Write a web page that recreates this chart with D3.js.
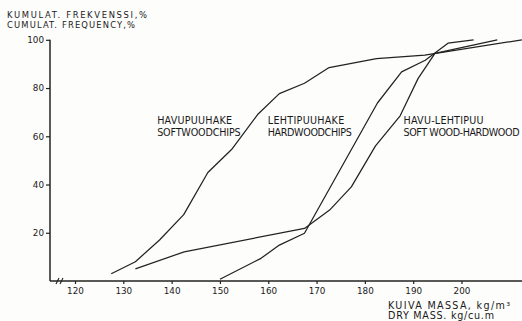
<!DOCTYPE html>
<html>
<head>
<meta charset="utf-8">
<script src="https://cdn.jsdelivr.net/npm/d3@7"></script>
<style>
  html, body { margin: 0; padding: 0; background: #fdfdfc; }
  svg { display: block; }
  text { font-family: "DejaVu Sans", sans-serif; fill: #1a1a1a; }
</style>
</head>
<body>
<svg id="chart" width="522" height="321"></svg>
<script>
// ---- data ----
const xTicks = [120, 130, 140, 150, 160, 170, 180, 190, 200];
const yTicks = [20, 40, 60, 80, 100];

const softX = [127.5, 132.5, 137.5, 142.5, 147.5, 152.4, 157.8, 162.3, 167.5, 172.6, 182.4, 192.4, 212.5];
const softY = [3, 8, 17, 27.5, 45, 54.5, 69, 77.7, 82, 88.5, 92.2, 93.6, 100];

const hardX = [150, 158.5, 162.3, 167.5, 182.6, 187.6, 192.5, 197.2, 202.5];
const hardY = [0.7, 9.4, 14.9, 19.8, 73.8, 86.7, 91.5, 98.6, 100];

const mixX = [132.5, 142.6, 167.5, 172.7, 177.2, 182.2, 187.3, 191.0, 194.5, 207.4];
const mixY = [5, 12.1, 21.8, 29.4, 39, 56, 68.5, 83.9, 94.4, 100];

const labelFi = ["HAVUPUUHAKE", "LEHTIPUUHAKE", "HAVU-LEHTIPUU"];
const labelEn = ["SOFTWOODCHIPS", "HARDWOODCHIPS", "SOFT WOOD-HARDWOOD"];
const labelAtX = [137.0, 159.9, 188.0];   // x value where each label begins

const yTitle = ["KUMULAT. FREKVENSSI,%", "CUMULAT. FREQUENCY,%"];
const xTitle = ["KUIVA MASSA,  kg/m³", "DRY MASS.  kg/cu.m"];

// ---- chart ----
const svg = d3.select("#chart");
const x = d3.scaleLinear().domain([120, 200]).range([75, 461.5]);
const y = d3.scaleLinear().domain([0, 100]).range([281, 39.8]);
const ink = "#222";

// axes
const xAxisG = svg.append("g").attr("transform", "translate(0,281)");
xAxisG.call(d3.axisBottom(x).tickValues(xTicks).tickSize(3).tickPadding(4).tickFormat(d3.format("d")));
xAxisG.select(".domain").remove();
xAxisG.selectAll("line").attr("stroke", ink).attr("stroke-width", 1.2);
xAxisG.selectAll("text").attr("font-size", 8.8).attr("fill", "#1a1a1a").style("font-family", "DejaVu Sans");

svg.append("line").attr("x1", 50).attr("x2", 522).attr("y1", 281).attr("y2", 281)
  .attr("stroke", ink).attr("stroke-width", 1.5);

const yAxisG = svg.append("g").attr("transform", "translate(50,0)");
yAxisG.call(d3.axisLeft(y).tickValues(yTicks).tickSize(4).tickPadding(2).tickFormat(d3.format("d")));
yAxisG.select(".domain").remove();
yAxisG.selectAll("line").attr("stroke", ink).attr("stroke-width", 1.2);
yAxisG.selectAll("text").attr("font-size", 8.8).attr("fill", "#1a1a1a").style("font-family", "DejaVu Sans");

svg.append("line").attr("x1", 50).attr("x2", 50).attr("y1", y(100)).attr("y2", 281)
  .attr("stroke", ink).attr("stroke-width", 1.5);

// axis break marks
[0, 4].forEach(off => {
  svg.append("line")
    .attr("x1", 56 + off).attr("y1", 284).attr("x2", 59 + off).attr("y2", 278)
    .attr("stroke", ink).attr("stroke-width", 1.1);
});

// curves
const line = d3.line().x(d => x(d[0])).y(d => y(d[1]));
[[softX, softY], [hardX, hardY], [mixX, mixY]].forEach(([xs, ys]) => {
  svg.append("path")
    .datum(xs.map((v, i) => [v, ys[i]]))
    .attr("d", line)
    .attr("fill", "none")
    .attr("stroke", ink)
    .attr("stroke-width", 1.25)
    .attr("stroke-linejoin", "round");
});

// series labels
const labelLen = [[75, 83.5], [76.5, 84], [80, 116]];
labelFi.forEach((t, i) => {
  svg.append("text").attr("x", x(labelAtX[i])).attr("y", 123.5)
    .attr("font-size", 9.6)
    .attr("textLength", labelLen[i][0]).attr("lengthAdjust", "spacing")
    .text(t);
  svg.append("text").attr("x", x(labelAtX[i])).attr("y", 136)
    .attr("font-size", 9.6)
    .attr("textLength", labelLen[i][1]).attr("lengthAdjust", "spacing")
    .text(labelEn[i]);
});

// y title
svg.append("text").attr("x", 7).attr("y", 17.5).attr("font-size", 8.4)
  .attr("textLength", 140).attr("lengthAdjust", "spacing").text(yTitle[0]);
svg.append("text").attr("x", 7).attr("y", 27.5).attr("font-size", 8.4)
  .attr("textLength", 128).attr("lengthAdjust", "spacing").text(yTitle[1]);

// x title
svg.append("text").attr("x", 388).attr("y", 308.5).attr("font-size", 9.6)
  .attr("textLength", 122).attr("lengthAdjust", "spacing").text(xTitle[0]);
svg.append("text").attr("x", 388).attr("y", 318.5).attr("font-size", 9.6)
  .attr("textLength", 106).attr("lengthAdjust", "spacing").text(xTitle[1]);
</script>
</body>
</html>
